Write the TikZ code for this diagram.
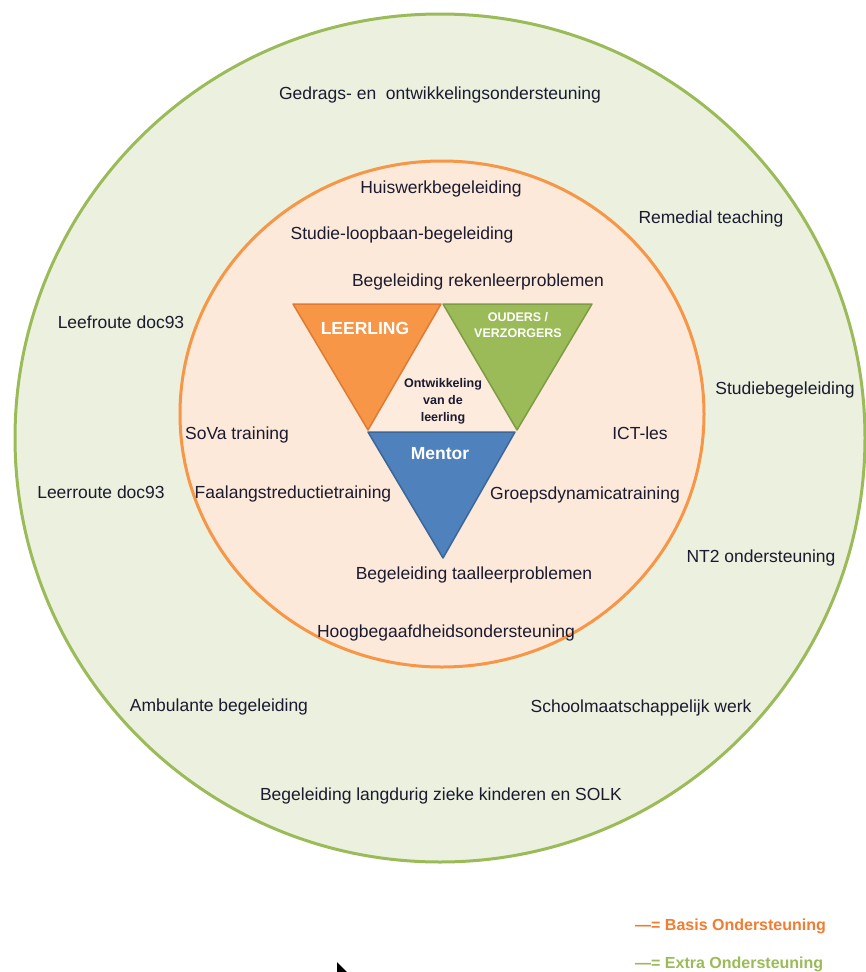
\documentclass[tikz,border=0pt]{standalone}
\usepackage{fontspec}
\setmainfont{Liberation Sans}
\definecolor{outerfill}{HTML}{EBF1DE}
\definecolor{outerline}{HTML}{9BBB59}
\definecolor{innerfill}{HTML}{FDE9D9}
\definecolor{innerline}{HTML}{F79646}
\definecolor{orangetri}{HTML}{F79646}
\definecolor{orangeedge}{HTML}{E07A30}
\definecolor{greentri}{HTML}{9BBB59}
\definecolor{greenedge}{HTML}{7E9C44}
\definecolor{bluetri}{HTML}{4F81BD}
\definecolor{blueedge}{HTML}{3A6699}
\definecolor{centertri}{HTML}{FDEBDD}
\definecolor{txt}{HTML}{1A1A30}
\definecolor{legorange}{HTML}{F07D32}
\definecolor{leggreen}{HTML}{9BBB59}
\begin{document}
\begin{tikzpicture}[x=1pt,y=-1pt,
  lbl/.style={font=\fontsize{17.5}{20}\selectfont, text=txt, inner sep=0pt},
  trilbl/.style={font=\bfseries\fontsize{17.5}{20}\selectfont, text=white, inner sep=0pt},
  smallw/.style={font=\bfseries\fontsize{12.5}{16}\selectfont, text=white, inner sep=0pt, align=center},
  centerlbl/.style={font=\bfseries\fontsize{12.5}{17}\selectfont, text=txt, inner sep=0pt, align=center},
  leglbl/.style={font=\bfseries\fontsize{16}{18}\selectfont, inner sep=0pt, anchor=west}]
\path[use as bounding box] (0,0) rectangle (866,972);
\fill[white] (0,0) rectangle (866,972);

% circles
\draw[outerline, fill=outerfill, line width=3pt] (440,438) ellipse[x radius=425, y radius=424];
\draw[innerline, fill=innerfill, line width=3pt] (442,414) ellipse[x radius=262, y radius=253];

% triangles
\fill[centertri] (368,431) -- (517,431) -- (442,304) -- cycle;
\filldraw[fill=orangetri, draw=orangeedge, line width=1.5pt, line join=round] (293,304) -- (441,304) -- (368,430) -- cycle;
\filldraw[fill=greentri, draw=greenedge, line width=1.5pt, line join=round] (443,304) -- (592,304) -- (517,430) -- cycle;
\filldraw[fill=bluetri, draw=blueedge, line width=1.5pt, line join=round] (368,432) -- (515,432) -- (443,558) -- cycle;

\node[trilbl] (leerling) at (365,328) {LEERLING};
\node[smallw] (ouders) at (518,325) {OUDERS /\\VERZORGERS};
\node[trilbl] (mentor) at (440,454) {Mentor};
\node[centerlbl] (ontw) at (443,401) {Ontwikkeling\\van de\\leerling};

% texts
\node[lbl] (gedrag) at (440,95) {Gedrags- en\ \ ontwikkelingsondersteuning};
\node[lbl] (huis) at (441,189) {Huiswerkbegeleiding};
\node[lbl] (remedial) at (711,219) {Remedial teaching};
\node[lbl] (studie) at (402,235) {Studie-loopbaan-begeleiding};
\node[lbl] (reken) at (478,282) {Begeleiding rekenleerproblemen};
\node[lbl] (leefroute) at (121,322) {Leefroute doc93};
\node[lbl] (studiebeg) at (785,390) {Studiebegeleiding};
\node[lbl] (sova) at (237,435) {SoVa training};
\node[lbl] (ict) at (640,433) {ICT-les};
\node[lbl] (leerroute) at (101,492) {Leerroute doc93};
\node[lbl] (faal) at (293,494) {Faalangstreductietraining};
\node[lbl] (groep) at (585,495) {Groepsdynamicatraining};
\node[lbl] (nt2) at (761,558) {NT2 ondersteuning};
\node[lbl] (taal) at (474,575) {Begeleiding taalleerproblemen};
\node[lbl] (hoog) at (446,633) {Hoogbegaafdheidsondersteuning};
\node[lbl] (ambu) at (219,707) {Ambulante begeleiding};
\node[lbl] (school) at (641,708) {Schoolmaatschappelijk werk};
\node[lbl] (langdurig) at (441,796) {Begeleiding langdurig zieke kinderen en SOLK};

% legend
\node[leglbl, text=legorange] (basis) at (635,926) {—= Basis Ondersteuning};
\node[leglbl, text=leggreen] (extra) at (635,964) {—= Extra Ondersteuning};

% cursor fragment
\fill[black] (337,962) -- (337,972) -- (347,972) -- cycle;
\end{tikzpicture}
\end{document}
